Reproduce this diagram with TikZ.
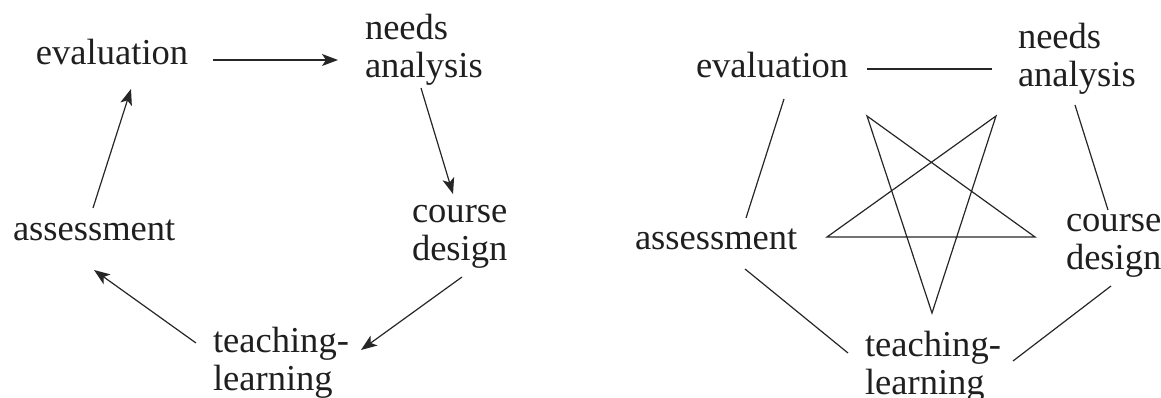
\documentclass[tikz,border=0pt]{standalone}
\usepackage{fontspec}
\setmainfont{Liberation Serif}
\usetikzlibrary{arrows.meta}
\begin{document}
\begin{tikzpicture}[x=0.75pt,y=-0.75pt,
  lbl/.style={anchor=base west,inner sep=0pt,outer sep=0pt,align=left,
    font=\fontsize{27.4}{28.5}\selectfont,text=black!88},
  conn/.style={draw=black!85,line width=0.9pt},
  arr/.style={conn,-{Stealth[length=12pt,width=9pt,inset=3pt]}}]
\useasboundingbox (0,0) rectangle (1161,398);

% ---------- left diagram ----------
% (base west = baseline of the last line)
\node[lbl] (le) at (36,65)   {evaluation};
\node[lbl] (ln) at (365,78)  {needs\\analysis};
\node[lbl] (lc) at (412,261) {course\\design};
\node[lbl] (lt) at (213,391) {teaching-\\learning};
\node[lbl] (la) at (13,241)  {assessment};

\draw[arr] ([shift={(177,-5)}]le.base west)   -- ([shift={(-27,-18)}]ln.base west);
\draw[arr] ([shift={(56,10)}]ln.base west)    -- ([shift={(41,-67)}]lc.base west);
\draw[arr] ([shift={(50,16)}]lc.base west)    -- ([shift={(148,-41)}]lt.base west);
\draw[arr] ([shift={(-17,-48)}]lt.base west)  -- ([shift={(81,29)}]la.base west);
\draw[arr] ([shift={(80,-33)}]la.base west)   -- ([shift={(95,24)}]le.base west);

% ---------- right diagram ----------
\node[lbl] (re) at (696,78)   {evaluation};
\node[lbl] (rn) at (1018,87)  {needs\\analysis};
\node[lbl] (rc) at (1066,270) {course\\design};
\node[lbl] (rt) at (865,395)  {teaching-\\learning};
\node[lbl] (ra) at (635,250)  {assessment};

\draw[conn] ([shift={(171,-9)}]re.base west)  -- ([shift={(-26,-18)}]rn.base west);
\draw[conn] ([shift={(57,18)}]rn.base west)   -- ([shift={(42,-60)}]rc.base west);
\draw[conn] ([shift={(45,16)}]rc.base west)   -- ([shift={(148,-34)}]rt.base west);
\draw[conn] ([shift={(-17,-42)}]rt.base west) -- ([shift={(110,19)}]ra.base west);
\draw[conn] ([shift={(111,-32)}]ra.base west) -- ([shift={(88,21)}]re.base west);

% star
\coordinate (sTL) at (867,116);
\coordinate (sTR) at (996,116);
\coordinate (sL)  at (827,237);
\coordinate (sR)  at (1035,237);
\coordinate (sB)  at (932,313);
\draw[conn,line join=miter] (sL) -- (sR) -- (sTL) -- (sB) -- (sTR) -- cycle;
\end{tikzpicture}
\end{document}
